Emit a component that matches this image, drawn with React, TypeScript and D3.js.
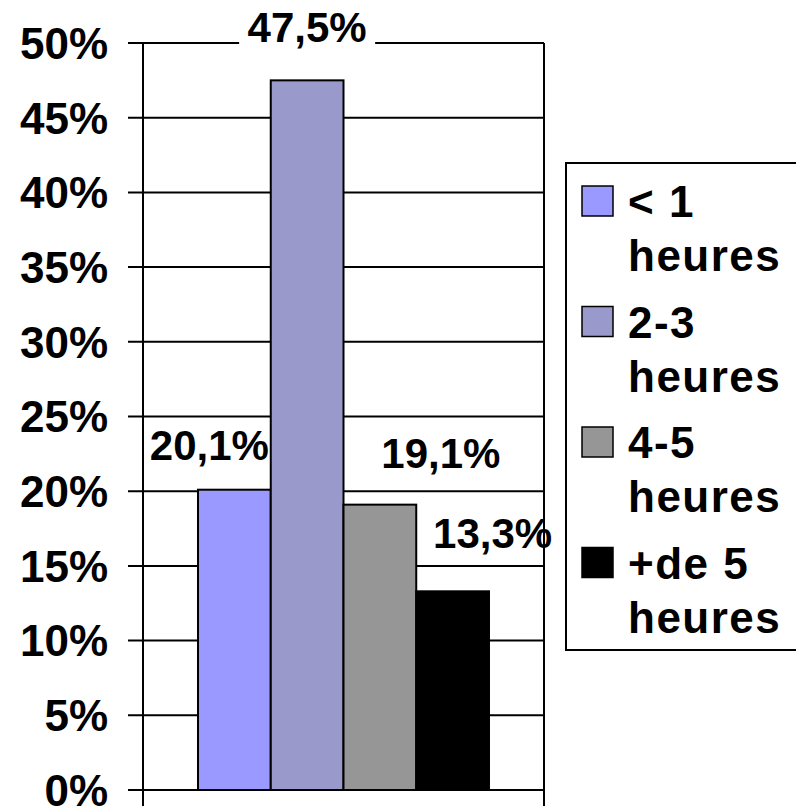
import React from "react";
import * as d3 from "d3";

const series = ["< 1 heures", "2-3 heures", "4-5 heures", "+de 5 heures"];
const legendLines = [["< 1", "heures"], ["2-3", "heures"], ["4-5", "heures"], ["+de 5", "heures"]];
const values = [20.1, 47.5, 19.1, 13.3];
const valueLabels = ["20,1%", "47,5%", "19,1%", "13,3%"];
const colors = ["#9999FF", "#9999CC", "#969696", "#000000"];
const yTicks = [0, 5, 10, 15, 20, 25, 30, 35, 40, 45, 50];
// label placement offsets relative to bar top-center
const labelDx = [-25, 0, 61, 40];
const labelDy = [-30, -38, -37, -43];

const W = 796;
const H = 808;
const plot = { left: 143, right: 544, top: 43, bottom: 790 };
const FONT = "'Liberation Sans', Arial, sans-serif";

export default function App() {
  const y = d3.scaleLinear().domain([0, 50]).range([plot.bottom, plot.top]);
  const outer = d3.scaleBand<string>().domain(["cat"]).range([plot.left, plot.right]).padding(0.159);
  const inner = d3.scaleBand<string>().domain(series).range([0, outer.bandwidth()]);
  const x0 = outer("cat") as number;

  const legend = { x: 566, y: 163, w: 260, h: 487 };

  return (
    <svg width={W} height={H} style={{ position: "absolute", left: 0, top: 0, background: "#fff" }} fontFamily={FONT} fontWeight="bold">
      {/* gridlines with outward ticks */}
      {yTicks.map((t) => (
        <line key={t} x1={plot.left - 15} x2={plot.right} y1={y(t)} y2={y(t)} stroke="#000" strokeWidth={2} />
      ))}
      {/* axes */}
      <line x1={plot.left} x2={plot.left} y1={plot.top} y2={plot.bottom + 16} stroke="#000" strokeWidth={2} />
      <line x1={plot.right} x2={plot.right} y1={plot.top} y2={plot.bottom + 16} stroke="#000" strokeWidth={2} />
      {/* y tick labels */}
      {yTicks.map((t) => (
        <text key={t} x={108} y={y(t)} dy="0.36em" textAnchor="end" fontSize={44} fill="#000">
          {t}%
        </text>
      ))}
      {/* bars */}
      {series.map((s, i) => (
        <rect
          key={s}
          x={x0 + (inner(s) as number)}
          y={y(values[i])}
          width={inner.bandwidth()}
          height={y(0) - y(values[i])}
          fill={colors[i]}
          stroke="#000"
          strokeWidth={2}
        />
      ))}
      {/* value labels */}
      {series.map((s, i) => {
        const cx = x0 + (inner(s) as number) + inner.bandwidth() / 2 + labelDx[i];
        const by = y(values[i]) + labelDy[i];
        return (
          <g key={s}>
            {i === 1 && <rect x={cx - 68} y={by - 34} width={136} height={42} fill="#fff" />}
            <text x={cx} y={by} textAnchor="middle" fontSize={42} fill="#000">
              {valueLabels[i]}
            </text>
          </g>
        );
      })}
      {/* legend */}
      <rect x={legend.x} y={legend.y} width={legend.w} height={legend.h} fill="#fff" stroke="#000" strokeWidth={2} />
      {legendLines.map((lines, i) => {
        const base = 217 + i * 120.5;
        return (
          <g key={i}>
            <rect x={582} y={base - 31} width={31} height={30} fill={colors[i]} stroke="#000" strokeWidth={1.5} />
            {lines.map((l, j) => (
              <text key={j} x={628} y={base + j * 54} fontSize={44} letterSpacing={1.5} fill="#000">
                {l}
              </text>
            ))}
          </g>
        );
      })}
    </svg>
  );
}
